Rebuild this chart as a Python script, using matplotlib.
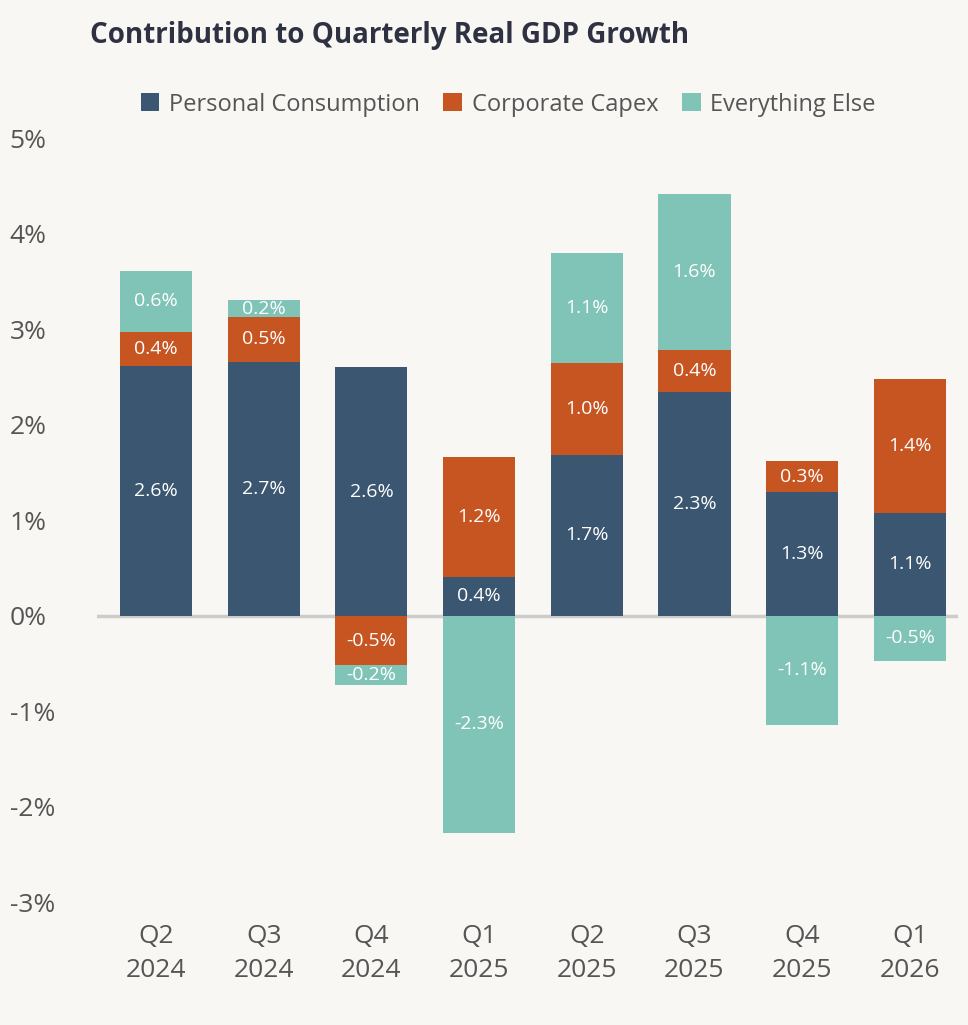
import matplotlib
matplotlib.use("Agg")
import matplotlib.pyplot as plt
import numpy as np

categories = ["Q2\n2024", "Q3\n2024", "Q4\n2024", "Q1\n2025", "Q2\n2025", "Q3\n2025", "Q4\n2025", "Q1\n2026"]
consumption = [2.61, 2.66, 2.60, 0.41, 1.68, 2.34, 1.29, 1.08]
capex = [0.36, 0.47, -0.52, 1.25, 0.97, 0.44, 0.33, 1.40]
everything_else = [0.64, 0.17, -0.20, -2.27, 1.15, 1.63, -1.14, -0.47]
series_names = ["Personal Consumption", "Corporate Capex", "Everything Else"]
colors = ["#3b5670", "#c65521", "#7fc4b6"]
bg = "#f9f7f3"

plt.rcParams['font.family'] = ['Open Sans', 'DejaVu Sans']
fig = plt.figure(figsize=(9.68, 10.25), dpi=100, facecolor=bg)
ax = fig.add_axes([0.10, 0.115, 0.89, 0.755], facecolor=bg)

x = np.arange(len(categories))
pos_base = np.zeros(len(x))
neg_base = np.zeros(len(x))
for vals, name, c in zip([consumption, capex, everything_else], series_names, colors):
    vals = np.array(vals)
    bottoms = np.where(vals >= 0, pos_base, neg_base)
    ax.bar(x, vals, 0.67, bottom=bottoms, color=c, label=name, zorder=2)
    for xi, v, b in zip(x, vals, bottoms):
        ax.text(xi, b + v / 2, f"{v:.1f}%", ha='center', va='center', color='white', fontsize=14, zorder=3)
    pos_base = np.where(vals >= 0, pos_base + vals, pos_base)
    neg_base = np.where(vals < 0, neg_base + vals, neg_base)

ax.axhline(0, color='#cccccc', lw=2.5, zorder=1)
ax.set_ylim(-3.05, 5.05)
ax.set_xlim(-0.55, 7.45)
ax.set_yticks(range(-3, 6))
ax.set_yticklabels([f"{t}%" for t in range(-3, 6)])
ax.set_xticks(x)
ax.set_xticklabels(categories, linespacing=1.5)
ax.tick_params(axis='both', length=0, labelsize=19, colors='#555555')
ax.tick_params(axis='x', pad=12)
ax.yaxis.set_tick_params(pad=10)
for s in ax.spines.values():
    s.set_visible(False)
for lbl in ax.get_yticklabels():
    lbl.set_horizontalalignment('left')
    lbl.set_x(-0.085)

fig.text(0.093, 0.965, "Contribution to Quarterly Real GDP Growth", fontsize=20, fontweight='bold',
         color='#2d3142', ha='left', va='center')
fig.legend(loc='center', bbox_to_anchor=(0.525, 0.898), ncol=3, frameon=False, fontsize=17,
           handlelength=0.8, handleheight=0.8, handletextpad=0.4, columnspacing=1.0, labelcolor='#555555')

fig.savefig("out.png", dpi=100, facecolor=bg)
